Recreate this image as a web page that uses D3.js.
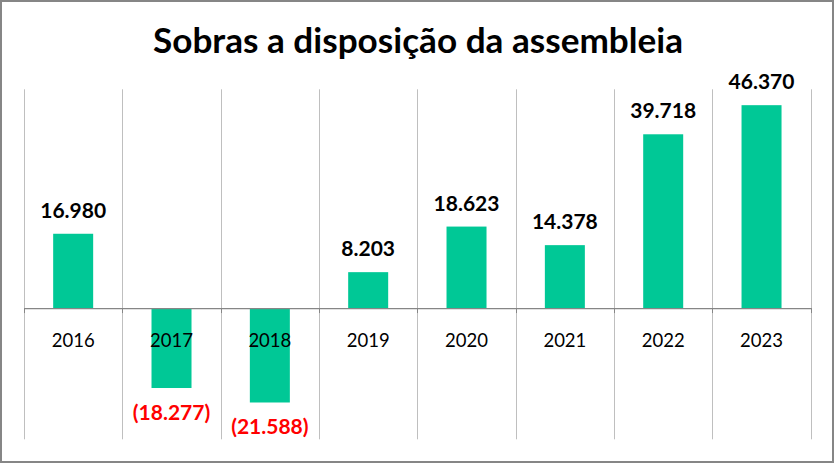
<!DOCTYPE html>
<html><head><meta charset="utf-8">
<script src="https://cdn.jsdelivr.net/npm/d3@7"></script>
<style>body{margin:0;background:#fff}svg{display:block}</style>
</head><body>
<script>
const title = "Sobras a disposição da assembleia";
const years = ["2016","2017","2018","2019","2020","2021","2022","2023"];
const values = [16980,-18277,-21588,8203,18623,14378,39718,46370];
const yDomain = [-30000, 50000];

const W = 836, H = 468;
const svg = d3.select("body").append("svg").attr("width", W).attr("height", H);
const font = "Lato, 'Open Sans', sans-serif";

svg.append("rect").attr("x",1).attr("y",1).attr("width",832).attr("height",461)
  .attr("fill","#fff").attr("stroke","#868686").attr("stroke-width",2);

svg.append("text").attr("x",418).attr("y",52.5).attr("text-anchor","middle")
  .attr("font-family",font).attr("font-weight","bold").attr("font-size",34)
  .attr("textLength",530).attr("lengthAdjust","spacingAndGlyphs")
  .attr("fill","#000").text(title);

const x = d3.scaleBand().domain(years).range([24, 810.7]).paddingInner(0).paddingOuter(0);
const y = d3.scaleLinear().domain(yDomain).range([439.3, 89.3]);
const barW = 40;

const loc = d3.formatLocale({decimal:",", thousands:".", grouping:[3], currency:["R$",""]});
const f = loc.format(",d");
const fmt = v => v < 0 ? "(" + f(-v) + ")" : f(v);

// vertical gridlines at band boundaries
const bounds = years.map(d => x(d)).concat([x.range()[1]]);
svg.append("g").selectAll("line").data(bounds).join("line")
  .attr("x1", d => Math.round(d)+0.5).attr("x2", d => Math.round(d)+0.5)
  .attr("y1", y(yDomain[1])).attr("y2", y(yDomain[0]))
  .attr("stroke","#BFBFBF").attr("stroke-width",1);

// bars
svg.append("g").selectAll("rect").data(years).join("rect")
  .attr("x", (d,i) => x(d) + x.bandwidth()/2 - barW/2)
  .attr("width", barW)
  .attr("y", (d,i) => y(Math.max(0, values[i])))
  .attr("height", (d,i) => Math.abs(y(values[i]) - y(0)))
  .attr("fill","#00C896");

// zero axis
const axis = d3.axisBottom(x).tickSize(0).tickFormat(d => d);
const ax = svg.append("g").attr("transform", `translate(0,${y(0)})`).call(axis);
ax.select(".domain").attr("stroke","#868686").attr("stroke-width",1.3);
ax.selectAll(".tick text").attr("font-family",font).attr("font-size",18.5)
  .attr("fill","#000").attr("dy",0).attr("y",39);
svg.append("g").selectAll("line").data(bounds).join("line")
  .attr("x1", d => Math.round(d)+0.5).attr("x2", d => Math.round(d)+0.5)
  .attr("y1", y(0)).attr("y2", y(0)+5).attr("stroke","#868686");

// value labels
svg.append("g").selectAll("text").data(years).join("text")
  .attr("x", d => x(d) + x.bandwidth()/2)
  .attr("y", (d,i) => values[i] >= 0 ? y(values[i]) - 16 : y(values[i]) + 32)
  .attr("text-anchor","middle")
  .attr("font-family",font).attr("font-weight","bold").attr("font-size",21)
  .attr("fill",(d,i) => values[i] < 0 ? "#FF0000" : "#000")
  .text((d,i) => fmt(values[i]));
</script>
</body></html>
